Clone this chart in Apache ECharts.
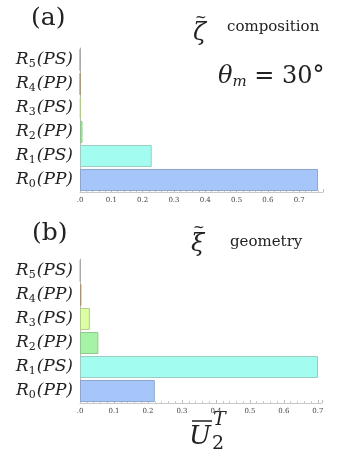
<!DOCTYPE html>
<html><head><meta charset="utf-8">
<script src="https://cdn.jsdelivr.net/npm/echarts@6/dist/echarts.min.js"></script>
<style>html,body{margin:0;padding:0;background:#fff}#c{width:345px;height:470px}</style>
</head><body><div id="c"></div>
<script>
var categories = ['R0(PP)','R1(PS)','R2(PP)','R3(PS)','R4(PP)','R5(PS)'];
var compositionValues = [0.76, 0.229, 0.008, 0.002, 0.0008, 0.0005];
var geometryValues = [0.22, 0.70, 0.054, 0.029, 0.004, 0.0015];
var tickLabelsA = ['.0','0.1','0.2','0.3','0.4','0.5','0.6','0.7'];
var tickLabelsB = ['.0','0.1','0.2','0.3','0.4','0.5','0.6','0.7'];
var fills = ['#a6c6fa','#a2fcf0','#a6f2a6','#dcffa4','#d4bc90','#cccccc'];
var borders = ['#8ea6cc','#9ccbc2','#8ec88e','#b4cc8a','#a89470','#a8a8a8'];

var serif = 'DejaVu Serif';
function catLabel(v){
  var m = v.match(/R(\d)\((\w+)\)/);
  return '{r|R}{s|' + m[1] + '}{p|(' + m[2] + ')}';
}
var labelRich = {
  r:{fontFamily:serif,fontStyle:'italic',fontSize:17,color:'#222'},
  s:{fontFamily:serif,fontSize:11,color:'#222',padding:[8,1,0,0]},
  p:{fontFamily:serif,fontStyle:'italic',fontSize:17,color:'#222'}
};
function mkData(vals){
  return vals.map(function(v,i){return {value:v,itemStyle:{color:fills[i],borderColor:borders[i],borderWidth:1}};});
}
function xAx(idx,max,labels){
  return {type:'value',gridIndex:idx,min:0,max:max,interval:0.1,
    axisLine:{show:true,lineStyle:{color:'#c8c8c8',width:1}},
    axisTick:{show:true,length:3,inside:true,lineStyle:{color:'#bbb'}},
    minorTick:{show:true,splitNumber:5,length:2,lineStyle:{color:'#ccc'}},
    splitLine:{show:false},
    axisLabel:{showMaxLabel:false,fontFamily:serif,fontSize:7,color:'#444',margin:5,
      formatter:function(v){var k=Math.round(v*10);return labels[k]!==undefined?labels[k]:'';}}};
}
function yAx(idx){
  return {type:'category',gridIndex:idx,data:categories,
    axisLine:{show:true,lineStyle:{color:'#b8b8b8'}},axisTick:{show:false},
    axisLabel:{margin:7,formatter:catLabel,rich:labelRich}};
}
var chart = echarts.init(document.getElementById('c'));
chart.setOption({
  animation:false,
  grid:[{left:80,top:48,width:243,height:144},{left:80,top:259,width:242,height:144}],
  xAxis:[xAx(0,0.776,tickLabelsA),xAx(1,0.712,tickLabelsB)],
  yAxis:[yAx(0),yAx(1)],
  series:[
    {type:'bar',xAxisIndex:0,yAxisIndex:0,data:mkData(compositionValues),barCategoryGap:'8%'},
    {type:'bar',xAxisIndex:1,yAxisIndex:1,data:mkData(geometryValues),barCategoryGap:'8%'}
  ],
  graphic:[
    {type:'text',left:31,top:6,style:{text:'(a)',fontFamily:serif,fontSize:25,fill:'#222'}},
    {type:'text',left:193,top:22,style:{text:'ζ',fontFamily:serif,fontStyle:'italic',fontSize:24,fill:'#222'}},
    {type:'text',left:195,top:11,style:{text:'~',fontFamily:serif,fontSize:14,fill:'#222'}},
    {type:'text',left:227,top:20,style:{text:'composition',fontFamily:serif,fontSize:15,fill:'#222'}},
    {type:'text',left:218,top:65,style:{rich:{a:{fontFamily:serif,fontStyle:'italic',fontSize:24,fill:'#222'},b:{fontFamily:serif,fontStyle:'italic',fontSize:15,fill:'#222',padding:[10,0,0,0]},c:{fontFamily:serif,fontSize:24,fill:'#222'}},text:'{a|θ}{b|m}{c| = 30°}'}},
    {type:'text',left:32,top:221,style:{text:'(b)',fontFamily:serif,fontSize:25,fill:'#222'}},
    {type:'text',left:191,top:233,style:{text:'ξ',fontFamily:serif,fontStyle:'italic',fontSize:24,fill:'#222'}},
    {type:'text',left:193,top:221,style:{text:'~',fontFamily:serif,fontSize:14,fill:'#222'}},
    {type:'text',left:230,top:235,style:{text:'geometry',fontFamily:serif,fontSize:15,fill:'#222'}},
    {type:'text',left:189,top:424,style:{text:'U',fontFamily:serif,fontStyle:'italic',fontSize:26,fill:'#222'}},
    {type:'line',shape:{x1:192,y1:421,x2:212,y2:421},style:{stroke:'#222',lineWidth:1.5}},
    {type:'text',left:213,top:411,style:{text:'T',fontFamily:serif,fontStyle:'italic',fontSize:19,fill:'#222'}},
    {type:'text',left:212,top:435,style:{text:'2',fontFamily:serif,fontSize:19,fill:'#222'}}
  ]
});
</script></body></html>
